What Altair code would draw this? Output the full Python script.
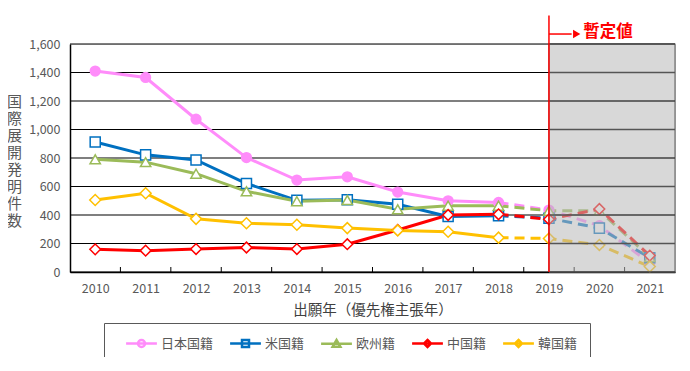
import altair as alt
import pandas as pd

# ---------------- data ----------------
years = list(range(2010, 2022))
series_names = ["日本国籍", "米国籍", "欧州籍", "中国籍", "韓国籍"]
japan = [1410, 1365, 1072, 803, 645, 668, 561, 500, 488, 435, 325, 63]
usa = [912, 822, 786, 621, 503, 507, 475, 390, 395, 377, 308, 100]
europe = [791, 771, 690, 566, 497, 505, 440, 465, 465, 430, 430, 105]
china = [159, 150, 161, 172, 161, 195, 295, 400, 405, 370, 442, 115]
korea = [505, 553, 373, 342, 332, 308, 292, 282, 241, 235, 190, 38]

y_ticks = [0, 200, 400, 600, 800, 1000, 1200, 1400, 1600]
last_final_year = 2018          # solid lines up to here, dashed after
provisional_year = 2019         # provisional values from here
provisional_label = "暫定値"
y_title = "国際展開発明件数"
x_title = "出願年（優先権主張年）"

# annotation anchor values (in data units)
marker_top = 1800
arrow_level = 1670
arrow_end = 2019.45
arrow_head = 2019.55
label_x = 2019.68
label_level = 1685

# ---------------- styles ----------------
colors = ["#FF8CFA", "#0070C0", "#9BBB59", "#FF0000", "#FFC000"]
shapes = ["circle", "square", "triangle-up", "diamond", "diamond"]
fills = ["#FF8CFA", "white", "white", "white", "white"]
sizes = [95, 120, 110, 55, 55]
legend_paths = [
    "M-2.2,0H2.2M-0.5,0A0.5,0.5,0,1,0,0.5,0A0.5,0.5,0,1,0,-0.5,0Z",
    "M-2.2,0H2.2M-0.5,-0.5H0.5V0.5H-0.5Z",
    "M-2.2,0H2.2M0,-0.55L0.55,0.4L-0.55,0.4Z",
    "M-2.2,0H2.2M0,-0.5L0.5,0L0,0.5L-0.5,0Z",
    "M-2.2,0H2.2M0,-0.5L0.5,0L0,0.5L-0.5,0Z",
]
FONT = "Noto Sans CJK JP"
GRAY_TXT = "#595959"

rows = []
for name, vals in zip(series_names, [japan, usa, europe, china, korea]):
    for yr, v in zip(years, vals):
        rows.append({"year": yr, "value": v, "series": name})
df = pd.DataFrame(rows)

x_lo, x_hi = years[0] - 0.5, years[-1] + 0.5
x_scale = alt.Scale(domain=[x_lo, x_hi], nice=False, zero=False)
y_scale = alt.Scale(domain=[y_ticks[0], y_ticks[-1]], nice=False)
stroke_scale = alt.Scale(domain=series_names, range=colors)

x_axis = alt.Axis(values=years, format="d", title=x_title)
y_axis = alt.Axis(values=y_ticks, format=",d", title=list(y_title))


def XQ(field):
    return alt.X(field, type="quantitative", scale=x_scale, axis=x_axis)


def YQ(field):
    return alt.Y(field, type="quantitative", scale=y_scale, axis=y_axis)


S = alt.Stroke("series:N", scale=stroke_scale, legend=None)
base = alt.Chart(df)

# horizontal gridlines
grid_df = pd.DataFrame({"v": y_ticks, "a": x_lo, "b": x_hi})
grid = alt.Chart(grid_df).mark_rule(color="black", strokeWidth=1.2).encode(
    x=XQ("a"), x2="b:Q", y=YQ("v")
)

# inward tick marks between categories
tick_df = pd.DataFrame({"t": [yr + 0.5 for yr in years[:-1]], "lo": 0, "hi": 35})
ticks = alt.Chart(tick_df).mark_rule(color="black", strokeWidth=1).encode(
    x=XQ("t"), y=YQ("lo"), y2="hi:Q",
)

solid = base.transform_filter(alt.datum.year <= last_final_year).mark_line(
    strokeWidth=3
).encode(x=XQ("year"), y=YQ("value"), stroke=S)

dashed = base.transform_filter(alt.datum.year >= last_final_year).mark_line(
    strokeWidth=3, strokeDash=[10, 6]
).encode(x=XQ("year"), y=YQ("value"), stroke=S)

points = base.mark_point(filled=True, strokeWidth=1.5, opacity=1).encode(
    x=XQ("year"), y=YQ("value"), stroke=S,
    fill=alt.Fill("series:N", scale=alt.Scale(domain=series_names, range=fills), legend=None),
    shape=alt.Shape("series:N", scale=alt.Scale(domain=series_names, range=shapes), legend=None),
    size=alt.Size("series:N", scale=alt.Scale(domain=series_names, range=sizes), legend=None),
)

shade_df = pd.DataFrame({"a": [provisional_year], "b": [x_hi],
                         "lo": [y_ticks[0]], "hi": [y_ticks[-1]]})
shade = alt.Chart(shade_df).mark_rect(
    fill="#B9B9B9", opacity=0.55, stroke="black", strokeWidth=1.2
).encode(x=XQ("a"), x2="b:Q", y=YQ("lo"), y2="hi:Q")

# gridlines seen through the provisional-period shading
shade_grid_df = pd.DataFrame({"v": y_ticks, "a": float(provisional_year), "b": x_hi})
shade_grid = alt.Chart(shade_grid_df).mark_rule(color="#555555", strokeWidth=1.4).encode(
    x=XQ("a"), x2="b:Q", y=YQ("v")
)

ann_df = pd.DataFrame({"x": [provisional_year], "x_end": [arrow_end], "x_head": [arrow_head],
                       "x_lab": [label_x], "y0": [0], "y_top": [marker_top],
                       "y_arrow": [arrow_level], "y_lab": [label_level],
                       "label": [provisional_label]})
ann = alt.Chart(ann_df)
red_line = ann.mark_rule(color="#FF0000", strokeWidth=1.5).encode(
    x=XQ("x"), y=YQ("y0"), y2="y_top:Q"
)
arrow_line = ann.mark_rule(color="#FF0000", strokeWidth=1.5).encode(
    x=XQ("x"), x2="x_end:Q", y=YQ("y_arrow")
)
arrow_tip = ann.mark_point(shape="triangle-right", filled=True, color="#FF0000",
                           size=70, opacity=1).encode(
    x=XQ("x_head"), y=YQ("y_arrow")
)
label = ann.mark_text(color="#FF0000", fontSize=16.5, fontWeight="bold", font=FONT,
                      align="left", baseline="middle").encode(
    x=XQ("x_lab"), y=YQ("y_lab"), text="label:N"
)

legend_df = pd.DataFrame({"series": series_names, "year": [years[0]] * 5, "value": [0] * 5})
legend_layer = alt.Chart(legend_df).mark_point(filled=True, opacity=0).encode(
    x=XQ("year"), y=YQ("value"),
    stroke=alt.Stroke("series:N", scale=alt.Scale(domain=series_names, range=colors),
                      legend=alt.Legend(
                          orient="none", legendX=34, legendY=279, direction="horizontal",
                          columns=5, title=None, symbolSize=196, symbolStrokeWidth=2.5,
                          symbolOpacity=1, symbolOffset=17,
                          labelFontSize=13, labelColor=GRAY_TXT, labelFont=FONT,
                          labelOffset=11, columnPadding=6, padding=12,
                          strokeColor="#595959", fillColor="white",
                      )),
    fill=alt.Fill("series:N", scale=alt.Scale(domain=series_names, range=fills)),
    shape=alt.Shape("series:N", scale=alt.Scale(domain=series_names, range=legend_paths)),
)

chart = alt.layer(
    grid, ticks, solid, dashed, points, shade, shade_grid, red_line, arrow_line, arrow_tip,
    label, legend_layer
).resolve_scale(
    stroke="independent", fill="independent", shape="independent", size="independent"
).properties(
    width=605, height=228,
    autosize=alt.AutoSizeParams(type="none"),
    padding={"left": 62, "top": 36, "right": 5, "bottom": 85},
).configure_view(stroke=None).configure(font=FONT).configure_axisX(
    grid=False, ticks=False, domainColor="black", domainWidth=1.5,
    labelColor=GRAY_TXT, labelFontSize=12.5, labelPadding=10, labelFont=FONT,
    titleColor="#404040", titleFontSize=14.5, titleFontWeight="normal",
    titleFont=FONT, titlePadding=9, zindex=0,
).configure_axisY(
    grid=False, ticks=False, domainColor="black", domainWidth=1.5,
    labelColor=GRAY_TXT, labelFontSize=12.5, labelPadding=10, labelFont=FONT,
    titleAngle=0, titleColor=GRAY_TXT, titleFontSize=15,
    titleFontWeight="normal", titleFont=FONT, titleLineHeight=17,
    titleBaseline="middle", titleAlign="center", titleX=-56, titleY=57.5,
)

chart.save("out.html", embed_options={"renderer": "svg", "actions": False})
